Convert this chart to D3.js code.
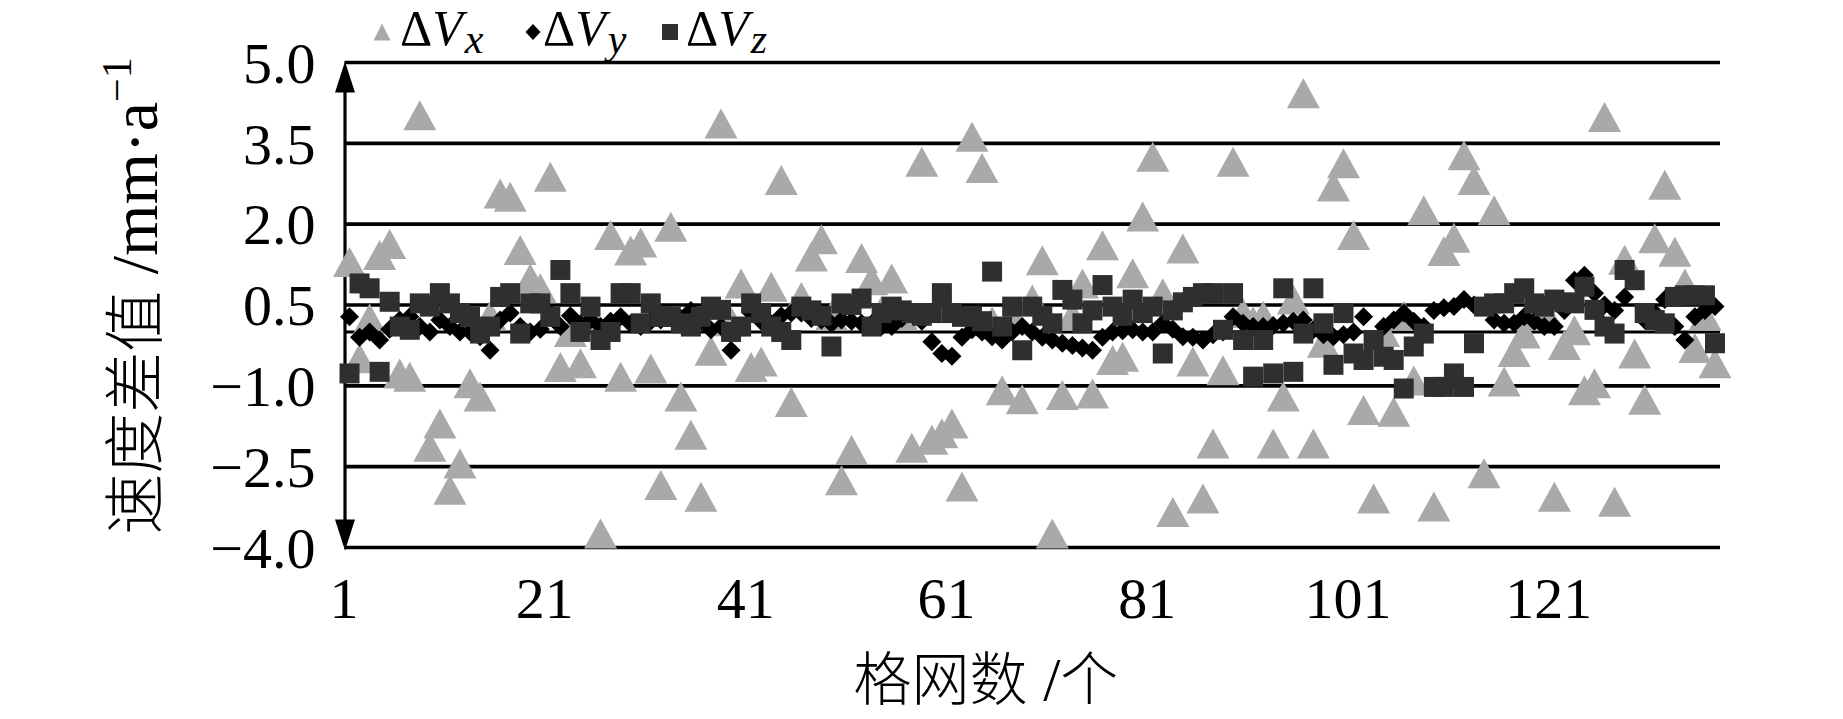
<!DOCTYPE html>
<html><head><meta charset="utf-8">
<script src="https://cdn.jsdelivr.net/npm/d3@7"></script>
<style>
html,body{margin:0;padding:0;background:#fff;}
svg{display:block;}
text{font-family:'Liberation Serif','Times New Roman','Noto Sans CJK SC',serif;fill:#000;}
</style></head><body>
<svg id="chart" width="1843" height="719"></svg>
<script>
// ---------- data ----------
const categoryCount = 137;
const categories = d3.range(1, categoryCount + 1);
const xTickLabels = [1, 21, 41, 61, 81, 101, 121];
const yTickValues = [-4, -2.5, -1, 0.5, 2, 3.5, 5];
const seriesSubscripts = ["x", "y", "z"];

const dVx = [
 1.30,-0.49,0.25,1.43,1.63,-0.77,-0.83,4.02,-2.13,-1.70,
 -2.93,-2.44,-0.95,-1.20,0.30,2.57,2.51,1.52,0.99,0.81,
 2.88,-0.65,0.00,-0.58,0.30,-3.74,1.80,-0.83,1.51,1.66,
 -0.68,-2.84,1.95,-1.20,-1.91,-3.06,-0.35,3.87,0.20,0.90,
 -0.65,-0.55,0.84,2.82,-1.30,0.65,1.40,1.72,0.30,-2.75,
 -2.19,1.37,0.96,0.40,0.99,0.30,-2.15,3.16,-2.00,-1.88,
 -1.70,-2.87,3.62,3.04,0.20,-1.08,0.30,-1.25,0.60,1.33,
 -3.74,-1.17,0.30,0.90,-1.14,1.61,-0.52,-0.46,1.09,2.14,
 3.25,0.72,-3.34,1.55,-0.55,-3.09,-2.07,-0.71,3.16,0.35,
 0.20,0.30,-2.07,-1.20,0.60,4.43,-2.07,-0.20,2.70,3.13,
 1.80,-1.45,-3.09,0.00,-1.48,0.30,-0.90,2.26,-3.24,1.50,
 1.75,3.28,2.82,-2.62,2.26,-0.92,-0.37,-0.03,0.30,0.40,
 -3.06,-0.24,0.03,-1.08,-0.95,3.99,-3.15,1.34,-0.40,-1.26,
 1.74,2.73,1.49,0.90,-0.30,0.30,-0.58];

const dVy = [
 0.28,-0.10,0.00,-0.15,0.05,0.22,0.28,0.10,0.00,0.22,
 0.10,0.00,0.00,-0.09,-0.34,0.22,0.35,0.10,0.00,0.05,
 0.35,0.10,0.30,0.15,0.22,0.10,0.20,0.28,0.15,0.10,
 0.20,0.22,0.30,0.25,0.40,0.20,0.04,0.10,-0.34,0.10,
 0.35,0.20,0.15,0.30,0.35,0.35,0.25,0.22,0.15,0.22,
 0.20,0.16,0.15,0.10,0.10,0.25,0.35,0.20,-0.18,-0.40,
 -0.45,-0.10,0.04,0.00,-0.09,-0.15,0.00,0.10,0.00,-0.10,
 -0.15,-0.21,-0.25,-0.30,-0.34,-0.10,0.00,0.02,0.04,0.00,
 0.00,0.16,0.05,-0.09,-0.10,-0.15,-0.05,0.00,0.28,0.16,
 0.10,0.10,0.12,0.16,0.20,0.22,0.04,-0.05,-0.09,-0.05,
 0.00,0.28,-0.15,0.10,0.22,0.35,0.20,0.10,0.40,0.45,
 0.47,0.60,0.50,0.47,0.22,0.16,0.16,0.28,0.20,0.10,
 0.10,0.40,0.96,1.05,0.72,0.50,0.40,0.65,0.96,0.22,
 0.35,0.60,0.10,-0.15,0.28,0.40,0.47];

const dVz = [
 -0.77,0.90,0.81,-0.74,0.56,0.10,0.04,0.53,0.47,0.72,
 0.53,0.35,0.28,-0.03,0.10,0.65,0.72,-0.03,0.53,0.53,
 0.28,1.15,0.72,0.00,0.47,-0.15,0.00,0.72,0.72,0.16,
 0.53,0.28,0.28,0.16,0.10,0.28,0.47,0.41,0.00,0.10,
 0.53,0.35,0.10,0.00,-0.15,0.47,0.40,0.30,-0.27,0.53,
 0.50,0.62,0.10,0.35,0.47,0.40,0.35,0.30,0.35,0.72,
 0.35,0.28,0.30,0.20,1.12,0.10,0.47,-0.34,0.47,0.30,
 0.16,0.78,0.60,0.16,0.40,0.87,0.47,0.30,0.60,0.35,
 0.47,-0.40,0.40,0.55,0.65,0.72,0.72,0.04,0.72,-0.15,
 -0.83,-0.15,-0.77,0.81,-0.74,-0.03,0.81,0.16,-0.61,0.35,
 -0.40,-0.52,-0.15,-0.46,-0.52,-1.05,-0.27,-0.03,-1.02,-1.02,
 -0.77,-1.02,-0.21,0.47,0.53,0.53,0.72,0.81,0.53,0.47,
 0.60,0.55,0.53,0.84,0.41,0.10,-0.03,1.15,0.96,0.35,
 0.22,0.16,0.65,0.68,0.68,0.68,-0.21];

// ---------- layout ----------
const svg = d3.select("#chart");
const plotLeft = 344.5, plotRight = 1720, plotTop = 62.5, plotBottom = 547.5;

const x = d3.scaleLinear().domain([0.5, categoryCount + 0.5]).range([plotLeft, plotRight]);
const y = d3.scaleLinear().domain([-4, 5]).range([plotBottom, plotTop]);

const fmt = v => (v < 0 ? "\u2212" : "") + d3.format(".1f")(Math.abs(v));

// gridlines (incl. zero line)
svg.append("g").selectAll("line").data(yTickValues.concat([0])).join("line")
  .attr("x1", plotLeft).attr("x2", plotRight)
  .attr("y1", d => y(d)).attr("y2", d => y(d))
  .attr("stroke", "#000").attr("stroke-width", d => d === 0 ? 3 : 3.6);

// y axis labels
const yAxis = d3.axisLeft(y).tickValues(yTickValues).tickSize(0).tickPadding(29).tickFormat(fmt);
const gy = svg.append("g").attr("transform", `translate(${plotLeft},0)`).call(yAxis);
gy.select(".domain").remove();
gy.selectAll("text").attr("font-size", 58).attr("font-family", "'Liberation Serif','Times New Roman',serif").attr("dy", "0.34em");

// x axis labels
const xAxis = d3.axisBottom(x).tickValues(xTickLabels).tickSize(0).tickPadding(29).tickFormat(d3.format("d"));
const gx = svg.append("g").attr("transform", `translate(-6,${plotBottom})`).call(xAxis);
gx.select(".domain").remove();
gx.selectAll("text").attr("font-size", 58).attr("font-family", "'Liberation Serif','Times New Roman',serif");

// y axis line with arrows
const axisX = 345;
svg.append("line").attr("x1", axisX).attr("x2", axisX).attr("y1", y(5) + 20).attr("y2", y(-4) - 20)
  .attr("stroke", "#000").attr("stroke-width", 3.2);
svg.append("path").attr("d", `M${axisX},${y(5) - 1} L${axisX + 10},${y(5) + 30} L${axisX - 10},${y(5) + 30} Z`).attr("fill", "#000");
svg.append("path").attr("d", `M${axisX},${y(-4) + 3} L${axisX + 10},${y(-4) - 28} L${axisX - 10},${y(-4) - 28} Z`).attr("fill", "#000");

// marker shapes
const triPath = (w, h) => `M0,${-h / 2} L${w / 2},${h / 2} L${-w / 2},${h / 2} Z`;
const diaPath = (w, h) => `M0,${-h / 2} L${w / 2},0 L0,${h / 2} L${-w / 2},0 Z`;
const sqPath = (s) => `M${-s / 2},${-s / 2} h${s} v${s} h${-s} Z`;

const triColor = "#a9a9a9", diaColor = "#000000", sqColor = "#2f2f2f";

const plot = svg.append("g");
plot.append("g").selectAll("path").data(dVx).join("path")
  .attr("d", triPath(33, 30)).attr("fill", triColor)
  .attr("transform", (d, i) => `translate(${x(categories[i])},${y(d)})`);
plot.append("g").selectAll("path").data(dVy).join("path")
  .attr("d", diaPath(19, 19)).attr("fill", diaColor)
  .attr("transform", (d, i) => `translate(${x(categories[i])},${y(d)})`);
plot.append("g").selectAll("path").data(dVz).join("path")
  .attr("d", sqPath(20)).attr("fill", sqColor)
  .attr("transform", (d, i) => `translate(${x(categories[i])},${y(d)})`);

// legend
const legend = svg.append("g");
const legendItems = [
  {shape: triPath(17, 17), color: triColor, mx: 382, tx: 400, sub: seriesSubscripts[0]},
  {shape: diaPath(15, 16), color: diaColor, mx: 533, tx: 543, sub: seriesSubscripts[1]},
  {shape: sqPath(16), color: sqColor, mx: 670, tx: 686, sub: seriesSubscripts[2]}
];
legendItems.forEach(it => {
  legend.append("path").attr("d", it.shape).attr("fill", it.color).attr("transform", `translate(${it.mx},32)`);
  const t = legend.append("text").attr("x", it.tx).attr("y", 45).attr("font-size", 50);
  t.append("tspan").text("\u0394");
  t.append("tspan").attr("font-style", "italic").text("V");
  t.append("tspan").attr("font-style", "italic").attr("font-size", 42).attr("dx", 2).attr("dy", 8).text(it.sub);
});

// axis titles
const yTitle = svg.append("text").attr("transform", "translate(157,296) rotate(-90)")
  .attr("text-anchor", "middle").attr("font-size", 66);
yTitle.append("tspan").attr("font-family", "'Noto Sans CJK SC',sans-serif").attr("font-weight", 300).attr("font-size", 61).text("速度差值");
yTitle.append("tspan").text(" /mm\u00b7a");
yTitle.append("tspan").attr("font-size", 42).attr("dy", -26).text("\u22121");

svg.append("text").attr("x", 986).attr("y", 700).attr("text-anchor", "middle").attr("font-size", 58)
  .html('<tspan font-family="Noto Sans CJK SC, sans-serif" font-weight="300">格网数</tspan><tspan font-size="62"> /</tspan><tspan font-family="Noto Sans CJK SC, sans-serif" font-weight="300">个</tspan>');
</script>
</body></html>
